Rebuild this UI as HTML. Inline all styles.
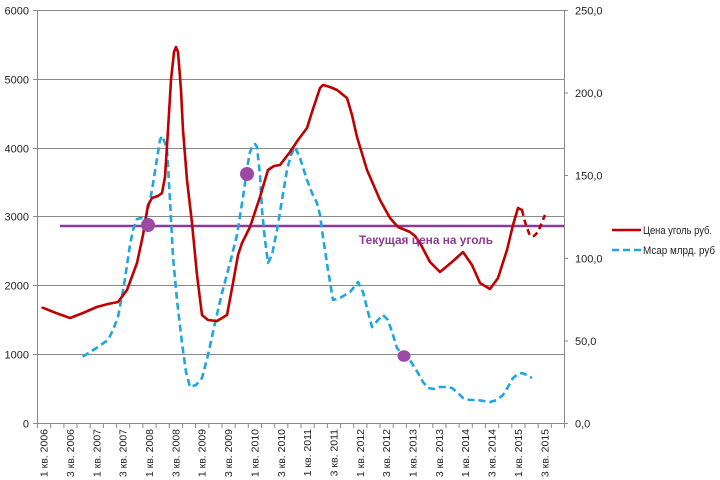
<!DOCTYPE html>
<html><head><meta charset="utf-8"><style>
html,body{margin:0;padding:0;background:#fff;}
svg{display:block;font-family:"Liberation Sans","DejaVu Sans",sans-serif;}
</style></head><body>
<svg width="720" height="480" viewBox="0 0 720 480" xmlns="http://www.w3.org/2000/svg">
<rect width="720" height="480" fill="#fff"/>
<!-- gridlines -->
<g stroke="#8a8a8a" stroke-width="1">
<line x1="37" y1="10.5" x2="564" y2="10.5"/>
<line x1="37" y1="79.5" x2="564" y2="79.5"/>
<line x1="37" y1="148.5" x2="564" y2="148.5"/>
<line x1="37" y1="216.5" x2="564" y2="216.5"/>
<line x1="37" y1="285.5" x2="564" y2="285.5"/>
<line x1="37" y1="354.5" x2="564" y2="354.5"/>
<line x1="37" y1="423.5" x2="568" y2="423.5"/>
<line x1="37.5" y1="10" x2="37.5" y2="424"/>
<line x1="564.5" y1="10" x2="564.5" y2="424"/>
<!-- left ticks -->
<line x1="33" y1="10.5" x2="37" y2="10.5"/>
<line x1="33" y1="79.5" x2="37" y2="79.5"/>
<line x1="33" y1="148.5" x2="37" y2="148.5"/>
<line x1="33" y1="216.5" x2="37" y2="216.5"/>
<line x1="33" y1="285.5" x2="37" y2="285.5"/>
<line x1="33" y1="354.5" x2="37" y2="354.5"/>
<line x1="33" y1="423.5" x2="37" y2="423.5"/>
<!-- right ticks -->
<line x1="564" y1="10.5" x2="568" y2="10.5"/>
<line x1="564" y1="93" x2="568" y2="93"/>
<line x1="564" y1="175.5" x2="568" y2="175.5"/>
<line x1="564" y1="258.5" x2="568" y2="258.5"/>
<line x1="564" y1="341" x2="568" y2="341"/>
</g>
<!-- x ticks -->
<g stroke="#8a8a8a" stroke-width="1" id="xt">
<line x1="37.5" y1="423" x2="37.5" y2="428"/><line x1="50.7" y1="423" x2="50.7" y2="428"/><line x1="63.9" y1="423" x2="63.9" y2="428"/><line x1="77.0" y1="423" x2="77.0" y2="428"/><line x1="90.2" y1="423" x2="90.2" y2="428"/><line x1="103.4" y1="423" x2="103.4" y2="428"/><line x1="116.6" y1="423" x2="116.6" y2="428"/><line x1="129.7" y1="423" x2="129.7" y2="428"/><line x1="142.9" y1="423" x2="142.9" y2="428"/><line x1="156.1" y1="423" x2="156.1" y2="428"/><line x1="169.3" y1="423" x2="169.3" y2="428"/><line x1="182.4" y1="423" x2="182.4" y2="428"/><line x1="195.6" y1="423" x2="195.6" y2="428"/><line x1="208.8" y1="423" x2="208.8" y2="428"/><line x1="222.0" y1="423" x2="222.0" y2="428"/><line x1="235.1" y1="423" x2="235.1" y2="428"/><line x1="248.3" y1="423" x2="248.3" y2="428"/><line x1="261.5" y1="423" x2="261.5" y2="428"/><line x1="274.7" y1="423" x2="274.7" y2="428"/><line x1="287.8" y1="423" x2="287.8" y2="428"/><line x1="301.0" y1="423" x2="301.0" y2="428"/><line x1="314.2" y1="423" x2="314.2" y2="428"/><line x1="327.4" y1="423" x2="327.4" y2="428"/><line x1="340.5" y1="423" x2="340.5" y2="428"/><line x1="353.7" y1="423" x2="353.7" y2="428"/><line x1="366.9" y1="423" x2="366.9" y2="428"/><line x1="380.1" y1="423" x2="380.1" y2="428"/><line x1="393.2" y1="423" x2="393.2" y2="428"/><line x1="406.4" y1="423" x2="406.4" y2="428"/><line x1="419.6" y1="423" x2="419.6" y2="428"/><line x1="432.8" y1="423" x2="432.8" y2="428"/><line x1="445.9" y1="423" x2="445.9" y2="428"/><line x1="459.1" y1="423" x2="459.1" y2="428"/><line x1="472.3" y1="423" x2="472.3" y2="428"/><line x1="485.5" y1="423" x2="485.5" y2="428"/><line x1="498.6" y1="423" x2="498.6" y2="428"/><line x1="511.8" y1="423" x2="511.8" y2="428"/><line x1="525.0" y1="423" x2="525.0" y2="428"/><line x1="538.2" y1="423" x2="538.2" y2="428"/><line x1="551.3" y1="423" x2="551.3" y2="428"/><line x1="564.5" y1="423" x2="564.5" y2="428"/>
</g>
<!-- left labels -->
<g font-size="11" fill="#222" text-anchor="end">
<text x="29" y="14.5">6000</text>
<text x="29" y="83.5">5000</text>
<text x="29" y="152.5">4000</text>
<text x="29" y="220.5">3000</text>
<text x="29" y="289.5">2000</text>
<text x="29" y="358.5">1000</text>
<text x="29" y="427.5">0</text>
</g>
<!-- right labels -->
<g font-size="11" fill="#222">
<text x="575" y="14.5">250,0</text>
<text x="575" y="97">200,0</text>
<text x="575" y="179.5">150,0</text>
<text x="575" y="262.5">100,0</text>
<text x="575" y="345">50,0</text>
<text x="575" y="427.5">0,0</text>
</g>
<!-- x labels -->
<g font-size="10.5" fill="#222" text-anchor="end">
<text transform="translate(47.6,429) rotate(-90)">1 кв. 2006</text>
<text transform="translate(74.0,429) rotate(-90)">3 кв. 2006</text>
<text transform="translate(100.3,429) rotate(-90)">1 кв. 2007</text>
<text transform="translate(126.7,429) rotate(-90)">3 кв. 2007</text>
<text transform="translate(153.0,429) rotate(-90)">1 кв. 2008</text>
<text transform="translate(179.4,429) rotate(-90)">3 кв. 2008</text>
<text transform="translate(205.7,429) rotate(-90)">1 кв. 2009</text>
<text transform="translate(232.1,429) rotate(-90)">3 кв. 2009</text>
<text transform="translate(258.4,429) rotate(-90)">1 кв. 2010</text>
<text transform="translate(284.8,429) rotate(-90)">3 кв. 2010</text>
<text transform="translate(311.1,429) rotate(-90)">1 кв. 2011</text>
<text transform="translate(337.5,429) rotate(-90)">3 кв. 2011</text>
<text transform="translate(363.8,429) rotate(-90)">1 кв. 2012</text>
<text transform="translate(390.2,429) rotate(-90)">3 кв. 2012</text>
<text transform="translate(416.5,429) rotate(-90)">1 кв. 2013</text>
<text transform="translate(442.9,429) rotate(-90)">3 кв. 2013</text>
<text transform="translate(469.2,429) rotate(-90)">1 кв. 2014</text>
<text transform="translate(495.6,429) rotate(-90)">3 кв. 2014</text>
<text transform="translate(521.9,429) rotate(-90)">1 кв. 2015</text>
<text transform="translate(548.3,429) rotate(-90)">3 кв. 2015</text>
</g>
<!-- purple current price line -->
<line x1="60" y1="226" x2="564" y2="226" stroke="#8c3a94" stroke-width="2.5"/>
<!-- blue dashed series -->
<polyline fill="none" stroke="#1ea6e0" stroke-width="2.6" stroke-dasharray="7,4" stroke-linejoin="round" points="82.7,356.7 95,349 108,340 113,330 118,317 124,285 130,245 133,230 137,219 141,218 145,220 149,205 152,190 156,165 160,140 162,136 165,143 167,150 170,200 173,257 177,300 182,343 186,372 190,387 196,385 202,378 208,355 215,323 222,293 230,263 237,235 243,197 248,163 250,152 253,145 255,144 257,147 260,175 262,210 265,240 268,263 272,255 277,230 282,200 287,170 291,155 295,147 300,158 307,180 312,193 317,203 320,215 323,237 328,270 333,300 340,298 350,292 358,282 363,292 368,312 372,327 378,320 383,315 388,320 393,335 397,348 402,354 408,357 413,365 418,373 423,382 428,388 434,389 440,387 446,387 452,388 458,393 463,398 470,400 477,400 484,401 490,402 497,400 503,395 508,387 513,378 518,374 522,373 527,375 532,378"/>
<!-- red series -->
<polyline fill="none" stroke="#c00000" stroke-width="2.6" stroke-linejoin="round" stroke-linecap="round" points="42.7,307.7 56,313 70,318 83,313 96.7,307 108,304 118,302 127,290 137,263 143,235 148,205 152,198 158,196 162,193 165,177 168,130 171,80 174,52 176,47 178,52 181,90 183,130 187,180 192,223 197,275 202,315 208,320 217,321 227,315 233,283 238,255 242,243 250,227 260,197 268,170 274,166 280,165 290,152 298,140 307,128 312,112 317,97 320,88 323,85 330,87 337,90 347,98 352,115 357,137 367,170 380,200 390,218 398,227 410,232 415,236 420,243 430,262 440,272 452,262 463,252 472,265 480,283 490,289 498,278 507,250 513,225 518,208 522,210"/>
<polyline fill="none" stroke="#c00000" stroke-width="2.6" stroke-dasharray="6,4" stroke-linejoin="round" points="522,210 525,222 530,236 534,236 538,232 545,215"/>
<!-- purple dots -->
<circle cx="148" cy="225" r="7" fill="#9b4aa4"/>
<circle cx="247" cy="174" r="7" fill="#9b4aa4"/>
<ellipse cx="404" cy="356" rx="6.5" ry="5.8" fill="#9b4aa4"/>
<!-- annotation -->
<text x="359" y="244" font-size="11.5" font-weight="bold" fill="#8c3a94" textLength="134" lengthAdjust="spacingAndGlyphs">Текущая цена на уголь</text>
<!-- legend -->
<line x1="612" y1="230" x2="641" y2="230" stroke="#c00000" stroke-width="2.6"/>
<text x="643" y="234" font-size="11" fill="#222" textLength="69" lengthAdjust="spacingAndGlyphs">Цена уголь руб.</text>
<line x1="612" y1="250" x2="641" y2="250" stroke="#1ea6e0" stroke-width="2.6" stroke-dasharray="7,4"/>
<text x="643" y="254" font-size="11" fill="#222" textLength="72" lengthAdjust="spacingAndGlyphs">Мсар млрд. руб</text>
</svg>
</body></html>
